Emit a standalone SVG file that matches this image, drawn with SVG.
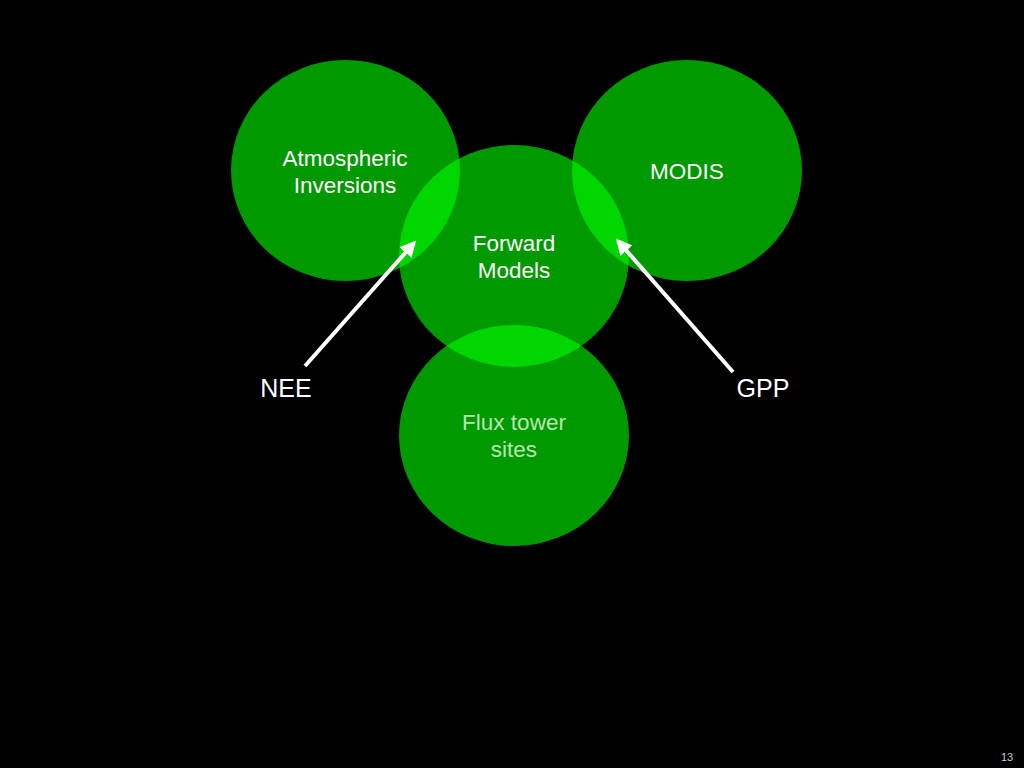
<svg xmlns="http://www.w3.org/2000/svg" width="1024" height="768" viewBox="0 0 1024 768">
<defs>
<style>
.c{fill:#00ff00;fill-opacity:0.6}
.t{font-family:"Liberation Sans",Arial,sans-serif;font-size:22.5px;fill:#ffffff;text-anchor:middle}
.big{font-size:25px}
.a{stroke:#ffffff;stroke-width:4;fill:none}
</style>
<marker id="ah" viewBox="0 0 10 10" refX="8" refY="5" markerWidth="4" markerHeight="4" orient="auto" markerUnits="strokeWidth">
<path d="M0,0 L10,5 L0,10 Z" fill="#ffffff"/>
</marker>
</defs>
<rect width="1024" height="768" fill="#000000"/>
<g id="atmospheric">
<ellipse class="c" cx="345.5" cy="170.5" rx="114.5" ry="110.5"/>
<text class="t" x="345" y="166">Atmospheric</text>
<text class="t" x="345" y="193">Inversions</text>
</g>
<g id="modis">
<ellipse class="c" cx="687" cy="170.5" rx="115" ry="110.5"/>
<text class="t" x="687" y="179">MODIS</text>
</g>
<g id="forward">
<ellipse class="c" cx="514" cy="256" rx="115" ry="111"/>
<text class="t" x="514" y="251">Forward</text>
<text class="t" x="514" y="278">Models</text>
</g>
<g id="flux">
<ellipse class="c" cx="514" cy="435.5" rx="115" ry="110.5"/>
<text class="t" x="514" y="430" style="fill:#b8e6b0">Flux tower</text>
<text class="t" x="514" y="457" style="fill:#b8e6b0">sites</text>
</g>
<g id="nee">
<text class="t big" x="286" y="397">NEE</text>
</g>
<g id="gpp">
<text class="t big" x="763" y="397">GPP</text>
</g>
<g id="connectors">
<line class="a" x1="305" y1="366" x2="414" y2="243" marker-end="url(#ah)"/>
<line class="a" x1="733" y1="372" x2="618" y2="241" marker-end="url(#ah)"/>
</g>
<text x="1007" y="761" style="font-family:'Liberation Sans',Arial,sans-serif;font-size:11px;fill:#cccccc;text-anchor:middle">13</text>
</svg>
